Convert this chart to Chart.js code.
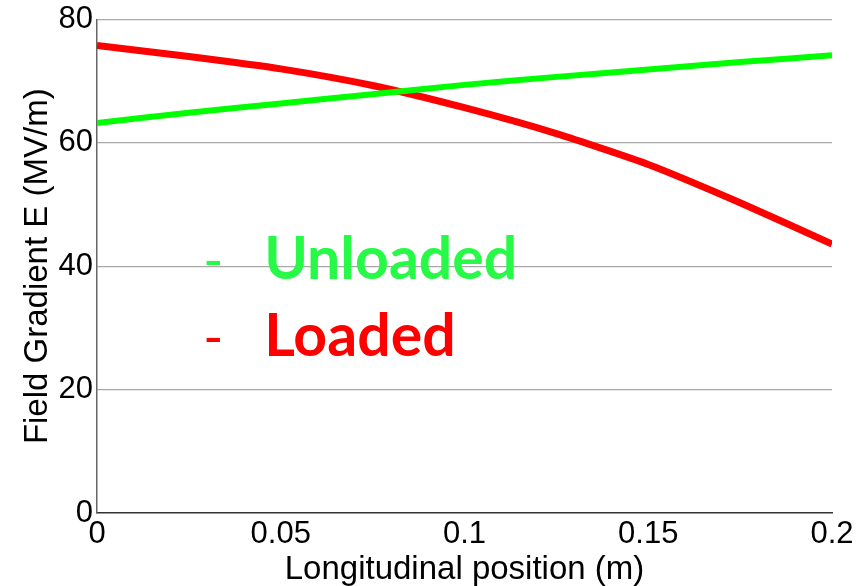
<!DOCTYPE html>
<html>
<head>
<meta charset="utf-8">
<script src="https://cdn.jsdelivr.net/npm/chart.js@4"></script>
<style>
  html, body { margin: 0; padding: 0; background: #ffffff; }
  #wrap { width: 865px; height: 586px; }
</style>
</head>
<body>
<div id="wrap"><canvas id="fieldChart" width="865" height="586"></canvas></div>
<script>
// Longitudinal positions (m) and field gradient (MV/m)
const positions = [0, 0.025, 0.05, 0.075, 0.1, 0.125, 0.15, 0.175, 0.2];
const unloaded = [63.2, 64.9, 66.4, 67.9, 69.4, 70.7, 71.9, 73.1, 74.2];
const loaded = [75.8, 74.0, 72.0, 69.3, 65.7, 61.5, 56.5, 50.3, 43.6];

const xTicks = [0, 0.05, 0.1, 0.15, 0.2];
const yTicks = [0, 20, 40, 60, 80];

// Text labels drawn inside the plot (label, colour, x value, y value)
const notes = [
    { text: 'Unloaded', color: '#26fa46', x: 0.0455, y: 38.0 },
    { text: 'Loaded', color: '#ff0000', x: 0.0455, y: 25.5 }
];

function toPoints(values) {
    return positions.map((x, i) => ({ x: x, y: values[i] }));
}

// Draw the big in-plot labels with their dashes
const notesPlugin = {
    id: 'notes',
    afterDatasetsDraw(chart) {
        const ctx = chart.ctx;
        const xs = chart.scales.x;
        const ys = chart.scales.y;
        ctx.save();
        ctx.textBaseline = 'alphabetic';
        ctx.textAlign = 'left';
        notes.forEach(n => {
            const px = xs.getPixelForValue(n.x);
            const py = ys.getPixelForValue(n.y);
            ctx.fillStyle = n.color;
            ctx.font = 'bold 59px Lato, "Open Sans", sans-serif';
            ctx.fillText(n.text, px, py);
            ctx.font = 'normal 54px Lato, "Open Sans", sans-serif';
            ctx.fillText('-', px - 61, py);
        });
        ctx.restore();
    }
};

const fontFamily = '"Liberation Sans", Arial, sans-serif';
const tickFont = { family: fontFamily, size: 31, lineHeight: 1 };
const titleFont = { family: fontFamily, size: 33, lineHeight: 1 };

new Chart(document.getElementById('fieldChart').getContext('2d'), {
    type: 'line',
    data: {
        datasets: [
            {
                label: 'Unloaded',
                data: toPoints(unloaded),
                borderColor: '#00ff00',
                borderWidth: 6,
                pointRadius: 0,
                tension: 0.2,
                fill: false
            },
            {
                label: 'Loaded',
                data: toPoints(loaded),
                borderColor: '#ff0000',
                borderWidth: 7,
                pointRadius: 0,
                tension: 0.2,
                fill: false
            }
        ]
    },
    options: {
        responsive: false,
        animation: false,
        layout: { padding: { left: 0, right: 33, top: 18, bottom: 0 } },
        plugins: {
            legend: { display: false },
            tooltip: { enabled: false }
        },
        scales: {
            x: {
                type: 'linear',
                min: 0,
                max: 0.2,
                afterBuildTicks: function(scale) {
                    scale.ticks = xTicks.map(v => ({ value: v }));
                },
                afterFit: function(scale) { scale.height = 73; },
                grid: { display: false, drawTicks: false },
                border: { color: '#333333', width: 1.5 },
                ticks: {
                    color: '#000000',
                    font: tickFont,
                    padding: 6,
                    maxRotation: 0,
                    autoSkip: false,
                    callback: v => String(v)
                },
                title: {
                    display: true,
                    text: 'Longitudinal position (m)',
                    color: '#000000',
                    font: titleFont,
                    padding: { top: 1, bottom: 0 }
                }
            },
            y: {
                min: 0,
                max: 80,
                afterBuildTicks: function(scale) {
                    scale.ticks = yTicks.map(v => ({ value: v }));
                },
                afterFit: function(scale) { scale.width = 97; },
                grid: {
                    color: ctx => ctx.tick && ctx.tick.value === 0 ? 'rgba(0,0,0,0)' : '#a8a8a8',
                    lineWidth: 1.2,
                    drawTicks: false
                },
                border: { color: '#666666', width: 1.5 },
                ticks: {
                    color: '#000000',
                    font: tickFont,
                    padding: 4,
                    autoSkip: false
                },
                title: {
                    display: true,
                    text: 'Field Gradient E (MV/m)',
                    color: '#000000',
                    font: titleFont,
                    padding: { top: 21, bottom: 0 }
                }
            }
        }
    },
    plugins: [notesPlugin]
});
</script>
</body>
</html>
